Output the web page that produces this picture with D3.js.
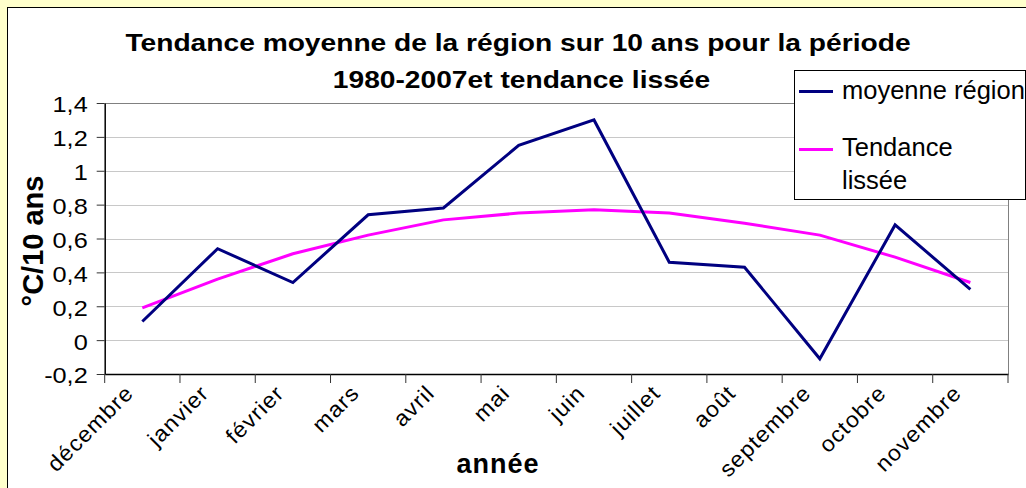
<!DOCTYPE html>
<html><head><meta charset="utf-8">
<script src="https://cdn.jsdelivr.net/npm/d3@7"></script>
<style>
html,body{margin:0;padding:0;background:#ffffcc;overflow:hidden}
svg{display:block}
text{font-family:"Liberation Sans",Arial,sans-serif;fill:#000}
</style></head><body>
<svg id="chart" width="1026" height="488"></svg>
<script>
// ---- data ----
const categories = ["décembre","janvier","février","mars","avril","mai","juin","juillet","août","septembre","octobre","novembre"];
const moyenneRegion = [0.11,0.54,0.34,0.74,0.78,1.15,1.30,0.46,0.43,-0.11,0.68,0.30];
const tendanceLissee = [0.19,0.36,0.51,0.62,0.71,0.75,0.77,0.75,0.69,0.62,0.49,0.34];
const yTicks = [-0.2,0,0.2,0.4,0.6,0.8,1,1.2,1.4];
const seriesNames = ["moyenne région","Tendance"];
const titleLines = ["Tendance moyenne de la région sur 10 ans pour la période","1980-2007et tendance lissée"];
const yTitle = "°C/10 ans";
const xTitle = "année";

// ---- layout ----
const svg = d3.select("#chart");
const L = 104.7, R = 1008, T = 103, B = 374;
const x = d3.scaleBand().domain(categories).range([L, R]).paddingInner(0).paddingOuter(0);
const cx = c => x(c) + x.bandwidth()/2;
const y = d3.scaleLinear().domain([-0.2,1.4]).range([B, T]);
const fmt = d => String(d).replace(".", ",");

// chart area
svg.append("rect").attr("x",7.5).attr("y",7.5).attr("width",1040).attr("height",500)
  .attr("fill","#fff").attr("stroke","#000").attr("stroke-width",1);

// gridlines
svg.append("g").selectAll("line").data(yTicks.filter(d => d > -0.2 && d < 1.4)).join("line")
  .attr("x1",L).attr("x2",R).attr("y1",d=>Math.round(y(d))+0.5).attr("y2",d=>Math.round(y(d))+0.5)
  .attr("stroke","#c8c8c8").attr("stroke-width",1);
// plot border top/right
svg.append("path").attr("d",`M${L},${Math.round(T)+0.5}H${Math.round(R)+0.5}V${B}`)
  .attr("fill","none").attr("stroke","#808080").attr("stroke-width",1);

// y axis
const yAxis = svg.append("g").attr("transform",`translate(${L},0)`)
  .call(d3.axisLeft(y).tickValues(yTicks).tickSize(8).tickSizeOuter(0).tickFormat(fmt));
yAxis.select(".domain").attr("stroke","#000").attr("stroke-width",1.5);
yAxis.selectAll(".tick line").attr("stroke","#333");
yAxis.selectAll(".tick text").attr("x",null).attr("dy","0.36em")
  .attr("transform","translate(-17,1) scale(1.15,1)")
  .attr("font-size",22).attr("text-anchor","end").attr("fill","#000");

// x axis
const xAxis = svg.append("g").attr("transform",`translate(0,${B})`)
  .call(d3.axisBottom(x).tickSize(0).tickSizeOuter(0));
xAxis.select(".domain").attr("stroke","#000").attr("stroke-width",1.5);
xAxis.selectAll(".tick text").attr("y",null).attr("dy","0.35em")
  .attr("transform","translate(-13,15) rotate(-45) scale(1.05,1)")
  .attr("font-size",22).attr("letter-spacing",1).attr("text-anchor","end").attr("fill","#000");
// boundary ticks
const bounds = categories.map(c => x(c)).concat([x.range()[1]]);
xAxis.append("g").selectAll("line").data(bounds).join("line")
  .attr("x1",d=>d).attr("x2",d=>d).attr("y1",0).attr("y2",9)
  .attr("stroke","#333").attr("stroke-width",1);

// lines
const line = d3.line().x((d,i)=>cx(categories[i])).y(d=>y(d));
svg.append("path").datum(tendanceLissee).attr("d",line)
  .attr("fill","none").attr("stroke","#ff00ff").attr("stroke-width",3).attr("stroke-linejoin","round");
svg.append("path").datum(moyenneRegion).attr("d",line)
  .attr("fill","none").attr("stroke","#000080").attr("stroke-width",3).attr("stroke-linejoin","miter");

// title
titleLines.forEach((t,i) => {
  svg.append("text").attr("transform",`translate(${i===0?518:521.5},${i===0?51:88}) scale(1.15,1)`)
    .attr("text-anchor","middle").attr("font-size",24.5)
    .attr("font-weight","bold").text(t);
});

// axis titles
svg.append("text").attr("transform","translate(43,241) rotate(-90)")
  .attr("text-anchor","middle").attr("font-size",29).attr("font-weight","bold").text(yTitle);
svg.append("text").attr("transform","translate(498,473)")
  .attr("text-anchor","middle").attr("font-size",27).attr("letter-spacing",1)
  .attr("font-weight","bold").text(xTitle);

// legend
const lg = svg.append("g");
lg.append("rect").attr("x",794.5).attr("y",70.5).attr("width",231).attr("height",129)
  .attr("fill","#fff").attr("stroke","#000").attr("stroke-width",1);
const legendItems = [
  {color:"#000080", ly:91.5, lines:[seriesNames[0]], base:[99]},
  {color:"#ff00ff", ly:149.5, lines:[seriesNames[1],"lissée"], base:[156,189]}
];
legendItems.forEach(it => {
  lg.append("line").attr("x1",799).attr("x2",833).attr("y1",it.ly).attr("y2",it.ly)
    .attr("stroke",it.color).attr("stroke-width",3);
  it.lines.forEach((t,j) => {
    lg.append("text").attr("transform",`translate(842,${it.base[j]})`)
      .attr("font-size",25.5).text(t);
  });
});
</script>
</body></html>
